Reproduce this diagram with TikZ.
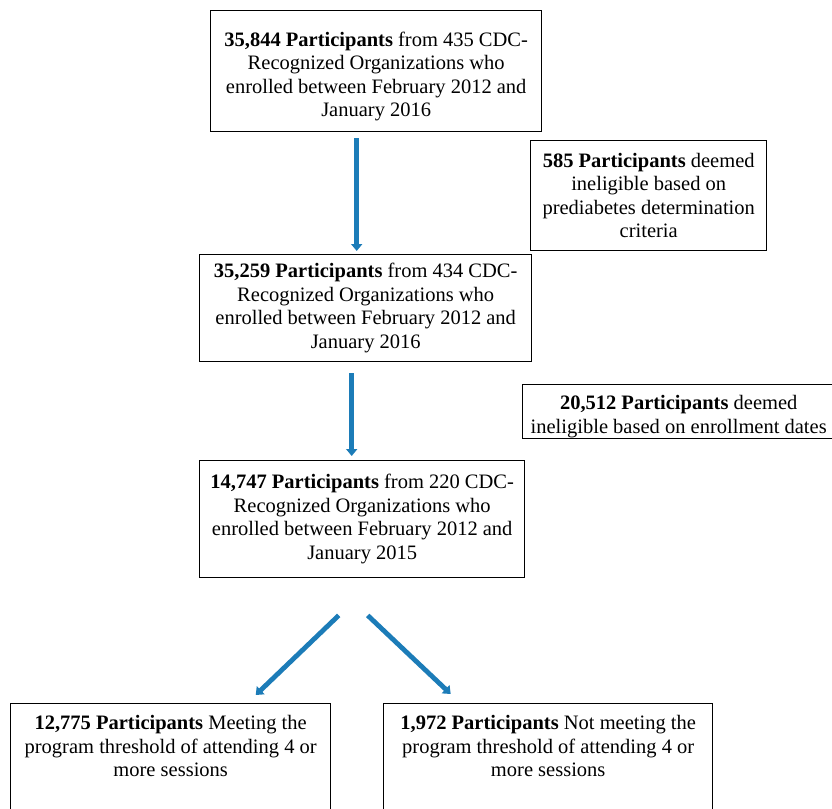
\documentclass[tikz,border=0pt]{standalone}
\usepackage{fontspec}
\setmainfont{Liberation Serif}
\usetikzlibrary{arrows.meta}
\definecolor{arrowblue}{RGB}{28,124,184}
\begin{document}
\begin{tikzpicture}[x=1pt,y=-1pt,
  box/.style={draw=black, line width=1.4pt, rectangle, align=center,
    font=\fontsize{20.5}{23.5}\selectfont, inner sep=0pt, anchor=north west},
  flow/.style={draw=arrowblue, line width=4.8pt,
    -{Triangle[width=11pt,length=7pt]}}]
\useasboundingbox (0,0) rectangle (832,808);
\clip (0,0) rectangle (832,808);
\fill[white] (0,0) rectangle (832,808);

\node[box] (b1) at (210,10)
  {\parbox[t][121pt][t]{331pt}{\centering\vspace{21pt}\textbf{35,844 Participants} from 435 CDC-\\Recognized Organizations who\\enrolled between February 2012 and\\January 2016}};
\node[box, minimum width=236pt, minimum height=110pt] (x1) at (530,140)
  {\textbf{585 Participants} deemed\\ineligible based on\\prediabetes determination\\criteria};
\node[box, minimum width=332pt, minimum height=107pt] (b2) at (199,254)
  {\textbf{35,259 Participants} from 434 CDC-\\Recognized Organizations who\\enrolled between February 2012 and\\January 2016};
\node[box] (x2) at (522,384)
  {\parbox[t][54pt][t]{312pt}{\centering\vspace{11pt}\textbf{20,512 Participants} deemed\\ineligible based on enrollment dates}};
\node[box, minimum width=325pt, minimum height=117pt] (b3) at (199,460)
  {\textbf{14,747 Participants} from 220 CDC-\\Recognized Organizations who\\enrolled between February 2012 and\\January 2015};
\node[box] (c1) at (10,703)
  {\parbox[t][130pt][t]{320pt}{\centering\vspace{12pt}\textbf{12,775 Participants} Meeting the\\program threshold of attending 4 or\\more sessions}};
\node[box] (c2) at (383,703)
  {\parbox[t][130pt][t]{329pt}{\centering\vspace{12pt}\textbf{1,972 Participants} Not meeting the\\program threshold of attending 4 or\\more sessions}};

\draw[flow] ([xshift=-19.5pt,yshift=-6pt]b1.south) -- ([xshift=-9pt,yshift=3pt]b2.north);
\draw[flow] ([xshift=-14pt,yshift=-11pt]b2.south) -- ([xshift=-10.5pt,yshift=4pt]b3.north);
\draw[flow] ([xshift=-23.5pt,yshift=-37pt]b3.south) -- ([xshift=85pt,yshift=8pt]c1.north);
\draw[flow] ([xshift=5.5pt,yshift=-37pt]b3.south) -- ([xshift=-97.5pt,yshift=9pt]c2.north);
\end{tikzpicture}
\end{document}
